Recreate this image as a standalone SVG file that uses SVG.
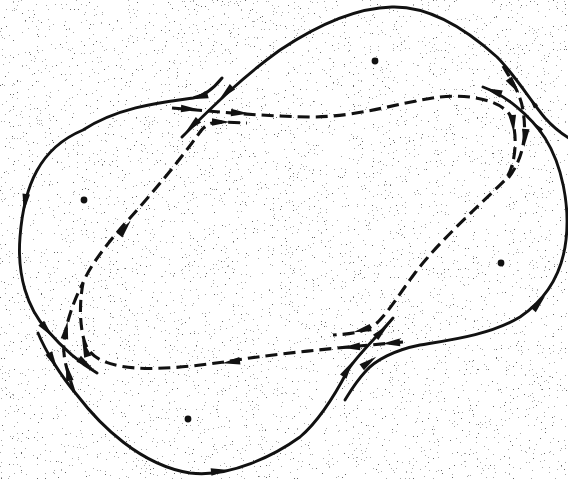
<svg xmlns="http://www.w3.org/2000/svg" xmlns:xlink="http://www.w3.org/1999/xlink" width="568" height="479" viewBox="0 0 568 479">
  <defs>
    <style>
      .sol { fill: none; stroke: #111; stroke-width: 2.9; stroke-linecap: round; }
      .dsh { fill: none; stroke: #111; stroke-width: 3.1; stroke-dasharray: 12 6; }
      .ah { fill: #111; }
      .ctr { fill: #111; }
    </style>
    <path id="ah" d="M9,0 L-9,-3.8 L-9,3.8 Z"/>
    <path id="ahs" d="M5,0 L-5,-2.6 L-5,2.6 Z"/>
    <filter id="grain" x="0" y="0" width="100%" height="100%">
      <feTurbulence type="fractalNoise" baseFrequency="0.75" numOctaves="2" seed="7" result="n"/>
      <feColorMatrix in="n" type="matrix" values="0 0 0 0 0  0 0 0 0 0  0 0 0 0 0  1.6 0 0 0 -0.35" result="a"/>
      <feComponentTransfer>
        <feFuncA type="discrete" tableValues="0 0 0 0 0 0 0 0 0 0.35 0.6"/>
      </feComponentTransfer>
    </filter>
  </defs>

  <rect width="568" height="479" fill="#ffffff"/>
  <rect id="scan-grain" width="568" height="479" fill="#222" filter="url(#grain)"/>

  <g id="separatrices-solid">
    <path id="lobe-left" class="sol" d="M222,78 C214,88 205,96 193,98 C165,102 120,106 83,130 C40,148 24,185 20,237 C17,275 27,308 47,330 C60,345 78,362 97,373"/>
    <path id="lobe-top" class="sol" d="M182,137 C215,104 245,75 280,50 C310,30 350,8 392,7 C430,6 465,28 497,57 C515,75 530,100 545,118 C553,127 560,133 572,140"/>
    <path id="lobe-right" class="sol" d="M483,87 C505,95 530,115 545,138 C562,165 570,205 566,240 C562,275 545,300 520,317 C490,335 450,340 420,345 C395,350 375,360 365,372 C355,383 350,392 345,400"/>
    <path id="lobe-bottom" class="sol" d="M38,333 C45,350 60,375 77,395 C100,425 140,465 190,473 C230,478 275,455 300,437 C320,420 335,395 348,370 C358,354 378,336 393,318"/>
  </g>

  <g id="separatrices-dashed">
    <path id="dash-top-right" class="dsh" d="M172,108 C220,112 260,116 310,117 C360,117 400,102 440,97 C470,94 500,100 510,115 C518,130 517,165 505,180 C480,205 440,240 415,273 C400,293 390,310 378,322 C365,333 350,334 333,335"/>
    <path id="dash-x2-outer" class="dsh" d="M503,66 C510,78 520,92 523,110 C527,135 524,160 505,182"/>
    <path id="dash-bottom-left" class="dsh" d="M403,342 C360,346 300,351 250,358 C200,366 150,372 120,366 C100,362 88,355 84,340 C80,325 79,305 83,283 C90,265 110,240 130,218 C155,190 180,160 200,132 C206,124 212,122 220,122 L247,123"/>
    <path id="dash-x3-outer" class="dsh" d="M74,392 C70,378 62,360 64,342 C66,322 74,300 83,283"/>
  </g>

  <g id="arrowheads" class="ah">
    <use xlink:href="#ah" transform="translate(199,97) rotate(165)"/>
    <use xlink:href="#ah" transform="translate(226,93) rotate(136)"/>
    <use xlink:href="#ah" transform="translate(192,126) rotate(136)"/>
    <use xlink:href="#ah" transform="translate(190,109) rotate(3)"/>
    <use xlink:href="#ah" transform="translate(240,113) rotate(3)"/>
    <use xlink:href="#ah" transform="translate(221,122) rotate(0)"/>
    <use xlink:href="#ah" transform="translate(125,228) rotate(-52)"/>
    <use xlink:href="#ah" transform="translate(25,203) rotate(98)"/>
    <use xlink:href="#ah" transform="translate(47,330) rotate(50)"/>
    <use xlink:href="#ah" transform="translate(86,364) rotate(36)"/>
    <use xlink:href="#ah" transform="translate(53,361) rotate(62)"/>
    <use xlink:href="#ah" transform="translate(66,330) rotate(-80)"/>
    <use xlink:href="#ah" transform="translate(68,372) rotate(-102)"/>
    <use xlink:href="#ah" transform="translate(85,348) rotate(-108)"/>
    <use xlink:href="#ah" transform="translate(231,362) rotate(172)"/>
    <use xlink:href="#ah" transform="translate(220,471) rotate(-6)"/>
    <use xlink:href="#ah" transform="translate(348,369) rotate(-58)"/>
    <use xlink:href="#ah" transform="translate(382,331) rotate(-45)"/>
    <use xlink:href="#ah" transform="translate(369,362) rotate(-36)"/>
    <use xlink:href="#ah" transform="translate(351,347) rotate(176)"/>
    <use xlink:href="#ah" transform="translate(391,343) rotate(176)"/>
    <use xlink:href="#ah" transform="translate(362,330) rotate(165)"/>
    <use xlink:href="#ah" transform="translate(539,303) rotate(-48)"/>
    <use xlink:href="#ah" transform="translate(493,91) rotate(-160)"/>
    <use xlink:href="#ah" transform="translate(514,86) rotate(55)"/>
    <use xlink:href="#ah" transform="translate(513,124) rotate(85)"/>
    <use xlink:href="#ah" transform="translate(525,138) rotate(95)"/>
    <use xlink:href="#ahs" transform="translate(533,103) rotate(-128)"/>
    <use xlink:href="#ahs" transform="translate(538,127) rotate(-130)"/>
  </g>

  <g id="centers" class="ctr">
    <circle id="center-left" cx="84" cy="200" r="3.4"/>
    <circle id="center-top" cx="375" cy="61" r="3.4"/>
    <circle id="center-right" cx="501" cy="263" r="3.4"/>
    <circle id="center-bottom" cx="188" cy="419" r="3.4"/>
  </g>
</svg>
